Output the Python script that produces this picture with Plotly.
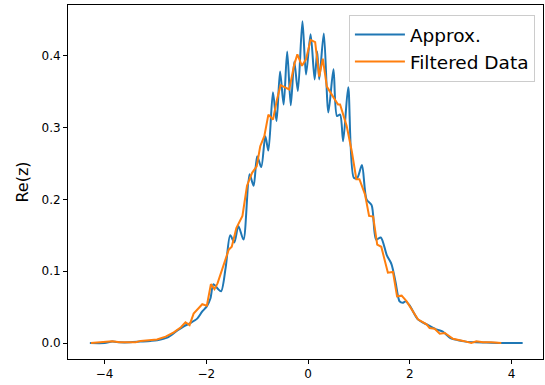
import plotly.graph_objects as go

# Blue "Approx." curve
approx_x = [-4.29, -4.0, -3.85, -3.7, -3.5, -3.3, -3.1, -2.97, -2.77, -2.58, -2.45, -2.31, -2.18, -2.08,
            -1.99, -1.92, -1.86, -1.78, -1.71, -1.62, -1.53, -1.45, -1.37, -1.27, -1.15, -1.07,
            -1.0, -0.92, -0.84, -0.78, -0.69, -0.62, -0.55, -0.48, -0.41, -0.34, -0.27, -0.20,
            -0.11, -0.04, 0.05, 0.13, 0.18, 0.22, 0.31, 0.40, 0.50, 0.57, 0.63, 0.69, 0.79,
            0.90, 0.97, 1.06, 1.15, 1.25, 1.34, 1.43, 1.55, 1.64, 1.72, 1.80, 1.86, 1.92, 2.0,
            2.16, 2.33, 2.52, 2.65, 2.80, 2.95, 3.1, 3.3, 3.6, 3.9, 4.22]
approx_y = [0.0, 0.0, 0.002, 0.001, 0.001, 0.002, 0.003, 0.004, 0.0075, 0.017, 0.023, 0.028, 0.034, 0.044,
            0.051, 0.062, 0.082, 0.076, 0.072, 0.105, 0.150, 0.140, 0.163, 0.144, 0.235, 0.219,
            0.260, 0.245, 0.288, 0.268, 0.349, 0.309, 0.378, 0.332, 0.406, 0.331, 0.392, 0.351,
            0.448, 0.374, 0.430, 0.367, 0.406, 0.367, 0.431, 0.321, 0.381, 0.316, 0.318, 0.281, 0.356,
            0.230, 0.230, 0.248, 0.200, 0.192, 0.144, 0.147, 0.122, 0.110, 0.085, 0.058, 0.056, 0.058, 0.052,
            0.033, 0.026, 0.019, 0.016, 0.007, 0.004, 0.002, 0.001, 0.0005, 0.0, 0.0]

# Orange "Filtered Data"
filt_x = [-4.27, -4.0, -3.85, -3.7, -3.5, -3.39, -3.29, -3.1, -2.97, -2.8, -2.64, -2.5, -2.41, -2.33,
          -2.25, -2.08, -1.99, -1.91, -1.84, -1.78, -1.67, -1.56, -1.50, -1.41, -1.29, -1.20, -1.10,
          -1.01, -0.94, -0.86, -0.78, -0.69, -0.61, -0.54, -0.37, -0.27, -0.21, -0.12, -0.04, 0.05,
          0.14, 0.22, 0.29, 0.37, 0.50, 0.59, 0.63, 0.76, 0.86, 0.95, 1.01, 1.12, 1.20, 1.28, 1.36,
          1.44, 1.57, 1.67, 1.75, 1.84, 1.94, 2.05, 2.16, 2.33, 2.39, 2.49, 2.59, 2.69, 2.85, 3.05,
          3.21, 3.31, 3.44, 3.6, 3.80]
filt_y = [0.0, 0.001, 0.0024, 0.001, 0.001, 0.001, 0.003, 0.004, 0.005, 0.009, 0.015, 0.022, 0.029, 0.025,
          0.041, 0.054, 0.052, 0.082, 0.075, 0.083, 0.108, 0.130, 0.134, 0.160, 0.177, 0.219, 0.237,
          0.246, 0.274, 0.288, 0.318, 0.311, 0.339, 0.359, 0.353, 0.388, 0.402, 0.386, 0.395, 0.422,
          0.419, 0.371, 0.396, 0.357, 0.342, 0.332, 0.332, 0.302, 0.267, 0.228, 0.228, 0.207, 0.177, 0.176, 0.137,
          0.134, 0.098, 0.099, 0.065, 0.066, 0.058, 0.045, 0.033, 0.026, 0.021, 0.020, 0.013, 0.014, 0.006, 0.003,
          0.0, 0.0024, 0.001, 0.001, 0.0]

x_ticks = [-4, -2, 0, 2, 4]
x_tick_labels = ["\u22124", "\u22122", "0", "2", "4"]
y_ticks = [0.0, 0.1, 0.2, 0.3, 0.4]
y_tick_labels = ["0.0", "0.1", "0.2", "0.3", "0.4"]

fig = go.Figure()
fig.add_trace(go.Scatter(x=approx_x, y=approx_y, mode="lines", name="Approx.",
                         line=dict(color="#1f77b4", width=2, shape="spline", smoothing=0.8)))
fig.add_trace(go.Scatter(x=filt_x, y=filt_y, mode="lines", name="Filtered Data",
                         line=dict(color="#ff7f0e", width=2)))

axis_common = dict(showline=True, linecolor="black", linewidth=1, mirror=True,
                   ticks="outside", ticklen=4, tickcolor="black", showgrid=False, zeroline=False,
                   tickfont=dict(family="DejaVu Sans", size=12, color="black"))
fig.update_xaxes(range=[-4.72, 4.62], tickvals=x_ticks, ticktext=x_tick_labels, **axis_common)
fig.update_yaxes(range=[-0.0222, 0.4706], tickvals=y_ticks, ticktext=y_tick_labels,
                 title=dict(text="Re(z)", font=dict(family="DejaVu Sans", size=16, color="black"), standoff=8),
                 **axis_common)

fig.update_layout(
    width=545, height=385,
    margin=dict(l=68, r=2, t=5, b=26),
    plot_bgcolor="white", paper_bgcolor="white",
    font=dict(family="DejaVu Sans", color="black"),
    legend=dict(x=0.983, y=0.972, xanchor="right", yanchor="top",
                bgcolor="rgba(255,255,255,0.8)", bordercolor="#cccccc", borderwidth=1,
                itemwidth=50,
                font=dict(family="DejaVu Sans", size=18.5, color="black"), tracegroupgap=2),
    showlegend=True,
)

fig.write_html("out.html")
